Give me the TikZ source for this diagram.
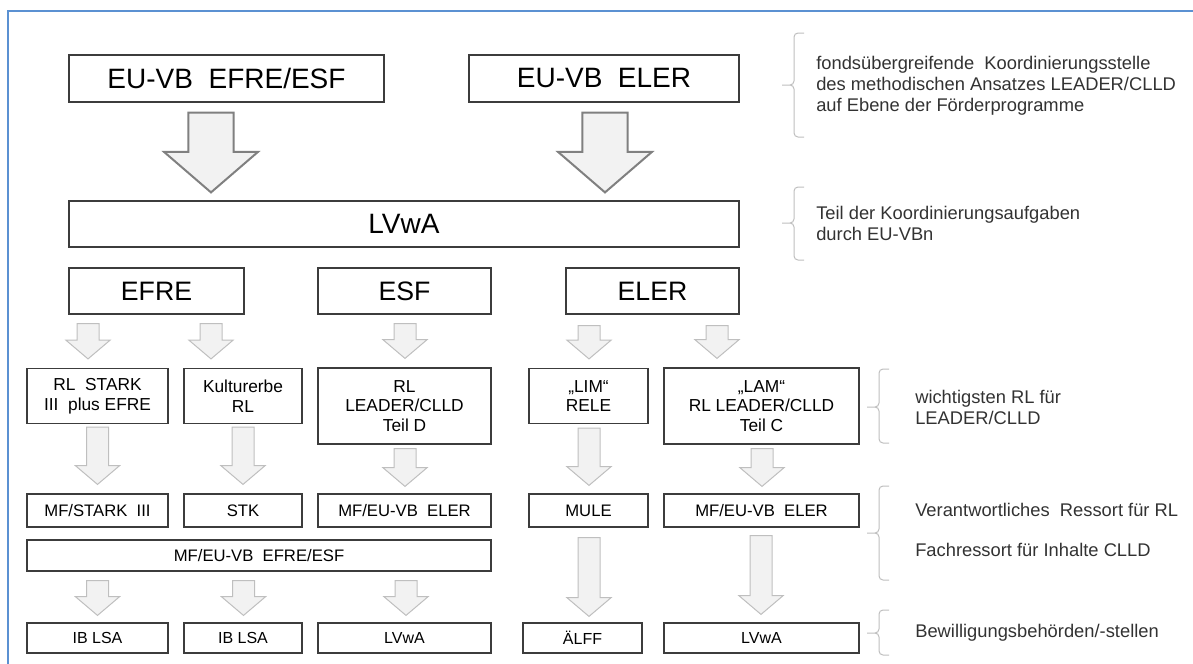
\documentclass[tikz,border=0pt]{standalone}
\usepackage{fontspec}
\setmainfont{Liberation Sans}
\usepackage{tikz}
\usetikzlibrary{calc}
\definecolor{frameblue}{RGB}{91,145,210}
\definecolor{boxline}{RGB}{60,60,60}
\definecolor{arrowdark}{RGB}{128,128,128}
\definecolor{arrowlight}{RGB}{191,191,191}
\definecolor{arrowfill}{RGB}{242,242,242}
\definecolor{notegray}{RGB}{50,50,50}

\begin{document}
\begin{tikzpicture}[
    x=0.75pt, y=-0.75pt,
    box/.style 2 args={draw=boxline, line width=0.9pt, inner sep=0pt, align=center,
        minimum width=#1*0.75pt, minimum height=#2*0.75pt},
    titlefont/.style={font=\fontsize{21}{25}\selectfont},
    fundfont/.style={font=\fontsize{20}{24}\selectfont},
    rlfont/.style={font=\fontsize{13}{14.75}\selectfont},
    ressortfont/.style={font=\fontsize{12.5}{15}\selectfont},
    stellefont/.style={font=\fontsize{12}{14}\selectfont},
    note/.style={anchor=west, align=left, inner sep=0pt, text=notegray,
        font=\fontsize{13.75}{15.75}\selectfont},
    blockarrow/.style n args={3}{to path={let \p1=(\tikztostart), \p2=(\tikztotarget) in
        (\x1-#1,\y1) -- (\x1+#1,\y1) -- (\x1+#1,\y2+#3) -- (\x1+#2,\y2+#3) -- (\x1,\y2)
        -- (\x1-#2,\y2+#3) -- (\x1-#1,\y2+#3) -- cycle}},
    bigarrow/.style={blockarrow={16.9pt}{35.25pt}{30.4pt}, draw=arrowdark, line width=1.5pt, fill=arrowfill},
    smallarrow/.style={blockarrow={8.25pt}{16.5pt}{14pt}, draw=arrowlight, line width=0.75pt, fill=arrowfill},
    bracket/.style={draw=arrowlight, line width=0.75pt, rounded corners=3pt},
    outline/.style={draw=frameblue, line width=1.2pt}
]
\useasboundingbox (0,0) rectangle (1193,664);
\draw[outline] (8,664) -- (8,11) -- (1193,11);

\node[box={315}{47}, titlefont] (euefre)  at (226.5,78.5) {EU-VB~ EFRE/ESF};
\node[box={270}{47}, titlefont] (eueler)  at (604,78.5)   {EU-VB~ ELER};
\node[box={670}{46}, titlefont] (lvwatop) at (404,224)    {LVwA};

\node[box={175}{46}, fundfont] (efre) at (156.5,291) {EFRE};
\node[box={173}{46}, fundfont] (esf)  at (404.5,291) {ESF};
\node[box={173}{46}, fundfont] (eler) at (652.5,291) {ELER};

\node[box={141}{55}, rlfont] (stark) at (97.5,396)  {RL~ STARK\\III~ plus EFRE};
\node[box={118}{55}, rlfont] (kult)  at (243,396)   {Kulturerbe\\RL};
\node[box={173}{76}, rlfont] (teild) at (404.5,406) {RL\\LEADER/CLLD\\Teil D};
\node[box={119}{55}, rlfont] (lim)   at (588.5,396) {„LIM“\\RELE};
\node[box={195}{76}, rlfont] (lam)   at (761.5,406) {„LAM“\\RL LEADER/CLLD\\Teil C};

\node[box={141}{33}, ressortfont] (mfstark) at (97.5,510.5)  {MF/STARK~ III};
\node[box={118}{33}, ressortfont] (stk)     at (243,510.5)   {STK};
\node[box={173}{33}, ressortfont] (mfelera) at (404.5,510.5) {MF/EU-VB~ ELER};
\node[box={119}{33}, ressortfont] (mule)    at (588.5,510.5) {MULE};
\node[box={195}{33}, ressortfont] (mfelerb) at (761.5,510.5) {MF/EU-VB~ ELER};
\node[box={464}{31}, ressortfont] (mfefre)  at (259,555.5)   {MF/EU-VB~ EFRE/ESF};

\node[box={141}{30}, stellefont] (iblsaa) at (97.5,638)  {IB LSA};
\node[box={118}{30}, stellefont] (iblsab) at (243,638)   {IB LSA};
\node[box={173}{30}, stellefont] (lvwaa)  at (404.5,638) {LVwA};
\node[box={119}{30}, stellefont] (aelff)  at (582.5,638) {ÄLFF};
\node[box={195}{30}, stellefont] (lvwab)  at (761.5,638) {LVwA};

\foreach \a/\b/\x in {euefre/lvwatop/211, eueler/lvwatop/605}
  \draw[bigarrow] ($(\a.south -| \x,0)+(0,10)$) to ($(\b.north -| \x,0)+(0,-8)$);

\foreach \a/\b/\x/\g/\h in {efre/stark/88/9/9, efre/kult/211/9/9, esf/teild/405/9/9,
    eler/lim/589/11/9, eler/lam/717/11/9,
    stark/mfstark/97.5/3/9, kult/stk/243/3/9, lim/mule/589/4/8,
    teild/mfelera/405/4/7, lam/mfelerb/762/4/7,
    mfefre/iblsaa/97.5/9/7, mfefre/iblsab/243.5/9/7, mfefre/lvwaa/406/9/7,
    mule/aelff/589/10/6, mfelerb/lvwab/761/8/8}
  \draw[smallarrow] ($(\a.south -| \x,0)+(0,\g)$) to ($(\b.north -| \x,0)+(0,-\h)$);

\foreach \bx/\bt/\bm/\bb in {794/33/85/137, 794/187/223/260, 879/369/407/443,
    879/486/533/580, 879/610/633/655}
  \draw[bracket] (\bx+10,\bt) -- (\bx,\bt) -- (\bx,\bm) -- (\bx-12,\bm)
                 (\bx-12,\bm) -- (\bx,\bm) -- (\bx,\bb) -- (\bx+10,\bb);

\node[note] (fonds)   at (816,86)  {fondsübergreifende~ Koordinierungsstelle\\des methodischen Ansatzes LEADER/CLLD\\auf Ebene der Förderprogramme};
\node[note] (teilko)  at (816,223) {Teil der Koordinierungsaufgaben\\durch EU-VBn};
\node[note] (wichtig) at (915,407) {wichtigsten RL für\\LEADER/CLLD};
\node[note] (verant)  at (915,510) {Verantwortliches~ Ressort für RL};
\node[note] (fach)    at (915,550) {Fachressort für Inhalte CLLD};
\node[note] (bewill)  at (915,633) {Bewilligungsbehörden/-stellen};
\end{tikzpicture}
\end{document}
